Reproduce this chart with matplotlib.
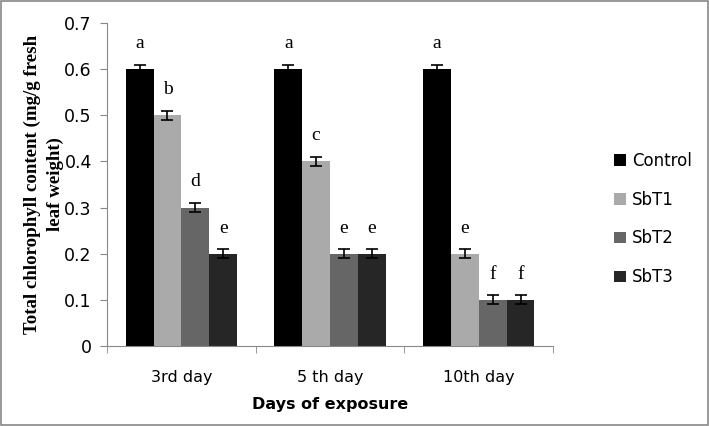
import numpy as np
import matplotlib.pyplot as plt
from matplotlib.patches import Rectangle

days = ['3rd day', '5 th day', '10th day']
treatments = ['Control', 'SbT1', 'SbT2', 'SbT3']
control = [0.6, 0.6, 0.6]
sbt1 = [0.5, 0.4, 0.2]
sbt2 = [0.3, 0.2, 0.1]
sbt3 = [0.2, 0.2, 0.1]
errors = [0.01, 0.01, 0.01]
letters = [['a', 'a', 'a'], ['b', 'c', 'e'], ['d', 'e', 'f'], ['e', 'e', 'f']]
colors = ['#000000', '#aaaaaa', '#666666', '#262626']

series = [control, sbt1, sbt2, sbt3]

fig = plt.figure(figsize=(7.09, 4.26), dpi=100)
ax = fig.add_axes([0.151, 0.188, 0.629, 0.758])
fig.patches.append(Rectangle((0.002, 0.003), 0.996, 0.994, transform=fig.transFigure,
                             fill=False, edgecolor='#888888', linewidth=1.2))

x = np.arange(len(days))
w = 0.1875
for i, (vals, c) in enumerate(zip(series, colors)):
    pos = x - 1.5 * w + i * w
    ax.bar(pos, vals, w, color=c, label=treatments[i], yerr=errors,
           error_kw=dict(ecolor='black', capsize=4, elinewidth=1.2, capthick=1.2))
    for p, v, t in zip(pos, vals, letters[i]):
        ax.text(p, v + 0.037, t, ha='center', va='bottom', fontsize=14,
                family='Liberation Serif')

ax.set_xlim(-0.5, 2.5)
ax.set_ylim(0, 0.7)
ax.set_yticks(np.arange(0, 0.71, 0.1))
ax.set_yticklabels(['0', '0.1', '0.2', '0.3', '0.4', '0.5', '0.6', '0.7'])
ax.set_xticks(x)
ax.set_xticklabels(days)
ax.set_xticks([-0.5, 0.5, 1.5, 2.5], minor=True)
ax.tick_params(axis='x', which='major', length=0, labelsize=11.5, pad=17)
ax.tick_params(axis='x', which='minor', length=5, color='#888888')
ax.tick_params(axis='y', length=5, color='#888888', labelsize=12.5, pad=6)
for s in ['top', 'right']:
    ax.spines[s].set_visible(False)
for s in ['left', 'bottom']:
    ax.spines[s].set_color('#888888')

ax.set_ylabel('Total chlorophyll content (mg/g fresh\nleaf weight)', family='Liberation Serif',
              fontweight='bold', fontsize=13.6, linespacing=1.45)
ax.yaxis.set_label_coords(-0.097, 0.5)
ax.set_xlabel('Days of exposure', fontweight='bold', fontsize=11.5, labelpad=9)

ax.legend(loc='center left', bbox_to_anchor=(1.103, 0.393), frameon=False, fontsize=12,
          handlelength=0.7, handleheight=0.7, handletextpad=0.4, labelspacing=1.25)

fig.savefig('out.png', dpi=100)
